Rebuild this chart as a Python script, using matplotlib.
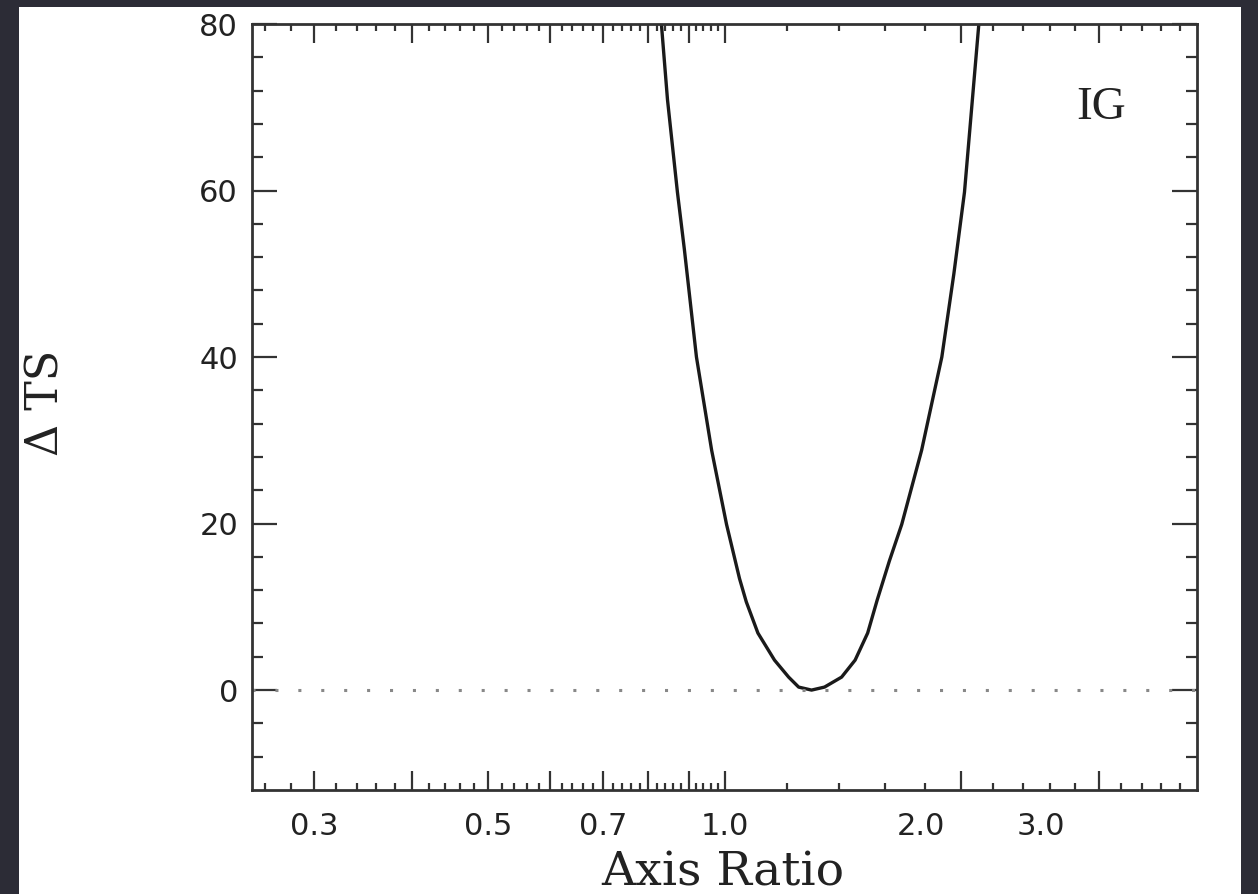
import numpy as np
import matplotlib
matplotlib.use("Agg")
import matplotlib.pyplot as plt
from matplotlib.patches import Rectangle

# Delta TS profile vs axis ratio
ratio = [0.831, 0.846, 0.871, 0.889, 0.921, 0.963, 1.006, 1.045, 1.066,
         1.103, 1.158, 1.207, 1.243, 1.291, 1.341, 1.410, 1.467, 1.522,
         1.565, 1.622, 1.682, 1.783, 1.892, 1.960, 2.022, 2.109]
dts = [80.0, 70.9, 59.8, 52.9, 40.0, 28.8, 19.9, 13.4, 10.6,
       6.85, 3.6, 1.56, 0.36, 0.0, 0.36, 1.56, 3.6, 6.85,
       10.8, 15.5, 19.9, 28.8, 40.0, 50.0, 59.8, 80.0]

major_x = [0.3, 0.4, 0.5, 0.6, 0.7, 0.8, 0.9, 1.0, 2.0, 3.0]
minor_x = list(np.arange(0.26, 1.0, 0.02)) + list(np.arange(1.2, 4.0, 0.2))
xlabels = ["0.3", "0.5", "0.7", "1.0", "2.0", "3.0"]
xlabel_at = [0.3, 0.5, 0.7, 1.0, 1.78, 2.53]
major_y = [0, 20, 40, 60, 80]
minor_y = list(range(-8, 80, 4))

W, H = 1258, 894
fig = plt.figure(figsize=(W / 100, H / 100), dpi=100)
fig.patch.set_facecolor("#2c2c36")
fig.add_artist(Rectangle((19 / W, 0), (1241 - 19) / W, (894 - 7) / H,
                         transform=fig.transFigure, facecolor="white",
                         edgecolor="none", zorder=0))

ax = fig.add_axes([252 / W, (H - 790) / H, (1197 - 252) / W, (790 - 24) / H])
ax.set_xscale("log")
ax.set_xlim(0.25, 4.0)
ax.set_ylim(-12, 80)

ax.plot(ratio, dts, color="#1a1a1a", lw=2.4, solid_joinstyle="round")
ax.axhline(0, color="#888888", lw=2.2, ls=(0, (1, 6.5)))

ax.set_xticks(major_x)
ax.set_xticks(minor_x, minor=True)
ax.set_xticklabels([])
ax.set_xticklabels([], minor=True)
ax.set_yticks(major_y)
ax.set_yticks(minor_y, minor=True)
ax.tick_params(axis="both", which="both", direction="in", top=True,
               right=True, color="#333333", width=1.6)
ax.tick_params(axis="x", which="major", length=14)
ax.tick_params(axis="x", which="minor", length=5)
ax.tick_params(axis="y", which="major", length=18)
ax.tick_params(axis="y", which="minor", length=8)
ax.tick_params(axis="y", which="major", labelsize=22, pad=10,
               labelcolor="#222222")
for s in ax.spines.values():
    s.set_linewidth(2.0)
    s.set_color("#333333")

for lab, xv in zip(xlabels, xlabel_at):
    ax.text(xv, -0.029, lab, transform=ax.get_xaxis_transform(),
            ha="center", va="top", fontsize=22, color="#222222")

ax.text(3.02, 70.0, "IG", fontsize=34, family="Liberation Serif",
        ha="center", va="center", color="#222222")

fig.text(723 / W, -1 / H, "Axis Ratio", fontsize=34, family="DejaVu Serif",
         ha="center", va="bottom", color="#222222")
fig.text(46 / W, (H - 403) / H, "\u0394 TS", fontsize=32,
         family="DejaVu Serif", rotation=90, ha="center", va="center",
         color="#222222")

fig.savefig("out.png", dpi=100, facecolor=fig.get_facecolor())
